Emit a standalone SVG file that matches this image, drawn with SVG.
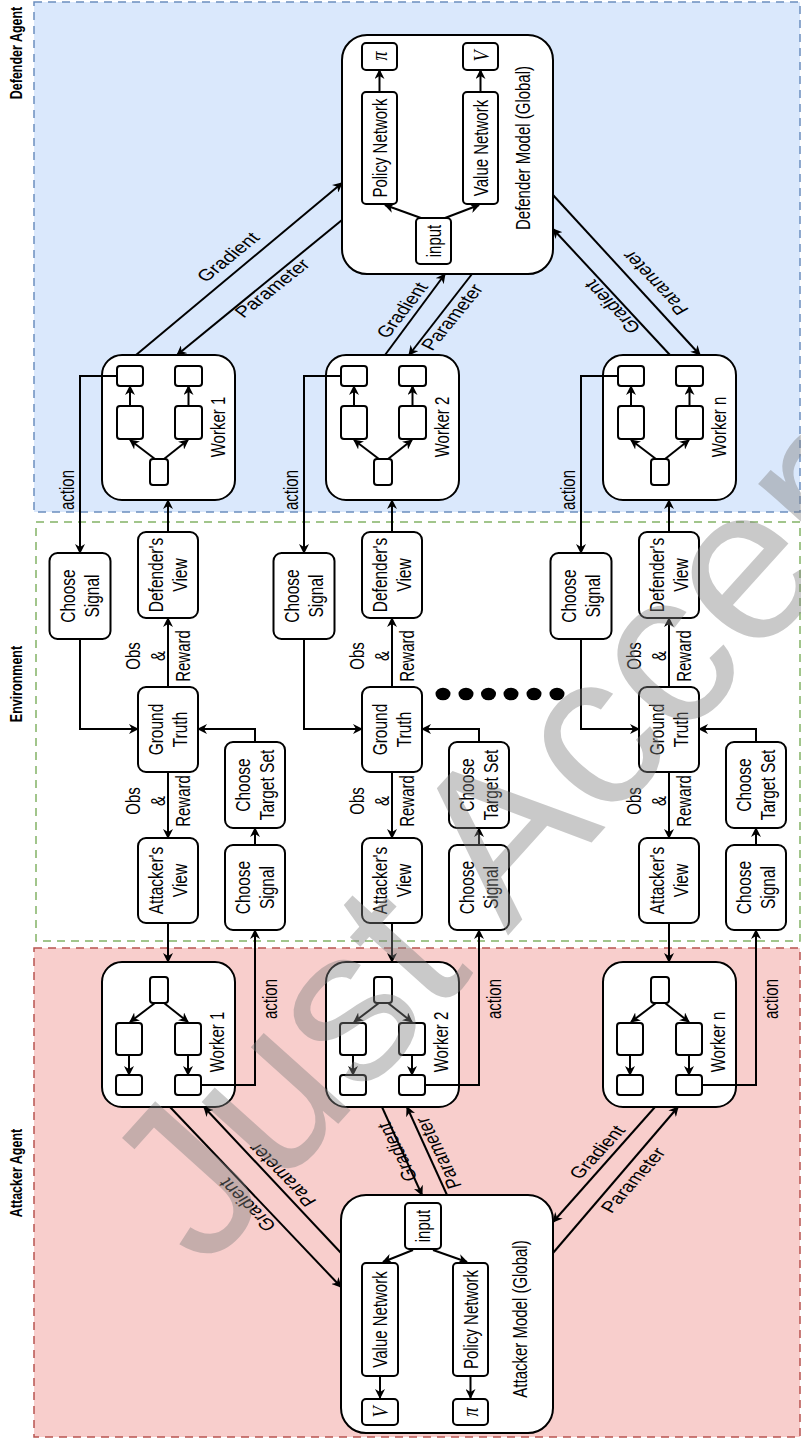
<svg xmlns="http://www.w3.org/2000/svg" width="801" height="1439" viewBox="0 0 801 1439">
<style>
.b{fill:#fff;stroke:#000;stroke-width:2}
.e{fill:none;stroke:#000;stroke-width:2}
.ea{marker-end:url(#ah)}
.t{font-family:"Liberation Sans",Arial,sans-serif;font-size:15px;text-anchor:middle;fill:#000}
.bx{font-size:15.5px}
.lb{font-size:16px}
.sec{font-weight:bold;font-size:12.5px}
.m{font-family:"Liberation Serif","Times New Roman",serif;font-style:italic;font-size:18px;text-anchor:middle;fill:#000}
.wm{font-family:"Liberation Sans",Arial,sans-serif;font-size:220px;fill:#808080;opacity:0.42}
</style>
<defs>
<marker id="ah" viewBox="0 0 10 10" refX="9" refY="5" markerWidth="10" markerHeight="10" markerUnits="userSpaceOnUse" orient="auto">
<path d="M0,0 L10,5 L0,10 L3,5 Z" fill="#000"/>
</marker>
</defs>

<g id="panels">
<rect x="34" y="2" width="766" height="510" fill="#dae8fc" stroke="#6c8ebf" stroke-width="1.5" stroke-dasharray="8 6"/>
<rect x="36" y="522" width="764" height="419" fill="#fff" stroke="#82b366" stroke-width="1.5" stroke-dasharray="8 6"/>
<rect x="34" y="948" width="766" height="489" fill="#f8cecc" stroke="#b85450" stroke-width="1.5" stroke-dasharray="8 6"/>
<text class="t sec" transform="translate(16,53) scale(1.35,1) rotate(-90)" dy="0.35em">Defender Agent</text>
<text class="t sec" transform="translate(16,684) scale(1.35,1) rotate(-90)" dy="0.35em">Environment</text>
<text class="t sec" transform="translate(16,1173) scale(1.35,1) rotate(-90)" dy="0.35em">Attacker Agent</text>
</g>

<g id="defender-model">
<rect class="b" x="342" y="35" width="211" height="239" rx="25"/>
<rect class="b" x="362" y="43" width="35" height="27" rx="4"/>
<rect class="b" x="463" y="43" width="35" height="27" rx="4"/>
<rect class="b" x="362" y="92" width="35" height="112" rx="4"/>
<rect class="b" x="463" y="92" width="35" height="112" rx="4"/>
<rect class="b" x="416" y="218" width="35" height="46" rx="4"/>
<path class="e ea" d="M421,218 L385,205"/>
<path class="e ea" d="M445,218 L479,205"/>
<path class="e ea" d="M379.5,92 V70"/>
<path class="e ea" d="M480.5,92 V70"/>
<text class="m" transform="translate(379.5,56) scale(1.3,1) rotate(-90)" dy="0.3em">π</text>
<text class="m" transform="translate(480.5,56) scale(1.3,1) rotate(-90)" dy="0.35em">V</text>
<text class="t" transform="translate(379.5,148) scale(1.35,1) rotate(-90)" dy="0.35em">Policy Network</text>
<text class="t" transform="translate(480.5,148) scale(1.35,1) rotate(-90)" dy="0.35em">Value Network</text>
<text class="t" transform="translate(433.5,241) scale(1.35,1) rotate(-90)" dy="0.35em">input</text>
<text class="t" transform="translate(523,148) scale(1.35,1) rotate(-90)" dy="0.35em">Defender Model (Global)</text>
</g>

<g id="defender-worker-1" transform="translate(102,355)">
<rect class="b" x="0" y="0" width="133" height="145" rx="20"/>
<rect class="b" x="15" y="11" width="26" height="20" rx="3"/>
<rect class="b" x="73" y="11" width="27" height="20" rx="3"/>
<rect class="b" x="15" y="51" width="26" height="33" rx="3"/>
<rect class="b" x="73" y="51" width="27" height="33" rx="3"/>
<rect class="b" x="48" y="104" width="18" height="26" rx="3"/>
<path class="e ea" d="M53,104 L28,85"/>
<path class="e ea" d="M62,104 L86,85"/>
<path class="e ea" d="M28,51 V31"/>
<path class="e ea" d="M86.5,51 V31"/>
<text class="t" transform="translate(116,72) scale(1.35,1) rotate(-90)" dy="0.35em">Worker 1</text>
</g>
<g id="defender-worker-2" transform="translate(326,355)">
<rect class="b" x="0" y="0" width="133" height="145" rx="20"/>
<rect class="b" x="15" y="11" width="26" height="20" rx="3"/>
<rect class="b" x="73" y="11" width="27" height="20" rx="3"/>
<rect class="b" x="15" y="51" width="26" height="33" rx="3"/>
<rect class="b" x="73" y="51" width="27" height="33" rx="3"/>
<rect class="b" x="48" y="104" width="18" height="26" rx="3"/>
<path class="e ea" d="M53,104 L28,85"/>
<path class="e ea" d="M62,104 L86,85"/>
<path class="e ea" d="M28,51 V31"/>
<path class="e ea" d="M86.5,51 V31"/>
<text class="t" transform="translate(116,72) scale(1.35,1) rotate(-90)" dy="0.35em">Worker 2</text>
</g>
<g id="defender-worker-n" transform="translate(603,355)">
<rect class="b" x="0" y="0" width="133" height="145" rx="20"/>
<rect class="b" x="15" y="11" width="26" height="20" rx="3"/>
<rect class="b" x="73" y="11" width="27" height="20" rx="3"/>
<rect class="b" x="15" y="51" width="26" height="33" rx="3"/>
<rect class="b" x="73" y="51" width="27" height="33" rx="3"/>
<rect class="b" x="48" y="104" width="18" height="26" rx="3"/>
<path class="e ea" d="M53,104 L28,85"/>
<path class="e ea" d="M62,104 L86,85"/>
<path class="e ea" d="M28,51 V31"/>
<path class="e ea" d="M86.5,51 V31"/>
<text class="t" transform="translate(116,72) scale(1.35,1) rotate(-90)" dy="0.35em">Worker n</text>
</g>

<g id="env-col-1">
<g id="choose-signal-d1"><rect class="b" x="49.5" y="553" width="61" height="86" rx="8"/>
<text class="t bx" transform="translate(80,596) scale(1.35,1) rotate(-90)"><tspan x="0" dy="-3.6">Choose</tspan><tspan x="0" dy="18">Signal</tspan></text></g>
<g id="defender-view-1"><rect class="b" x="138" y="532" width="60" height="86" rx="8"/>
<text class="t bx" transform="translate(168,575) scale(1.35,1) rotate(-90)"><tspan x="0" dy="-3.6">Defender's</tspan><tspan x="0" dy="18">View</tspan></text></g>
<g id="ground-truth-1"><rect class="b" x="138" y="687" width="60" height="85" rx="8"/>
<text class="t bx" transform="translate(168,729.5) scale(1.35,1) rotate(-90)"><tspan x="0" dy="-3.6">Ground</tspan><tspan x="0" dy="18">Truth</tspan></text></g>
<g id="choose-target-1"><rect class="b" x="225" y="742" width="60" height="86" rx="8"/>
<text class="t bx" transform="translate(255,785) scale(1.35,1) rotate(-90)"><tspan x="0" dy="-3.6">Choose</tspan><tspan x="0" dy="18">Target Set</tspan></text></g>
<g id="attacker-view-1"><rect class="b" x="138" y="838" width="60" height="85" rx="8"/>
<text class="t bx" transform="translate(168,880.5) scale(1.35,1) rotate(-90)"><tspan x="0" dy="-3.6">Attacker's</tspan><tspan x="0" dy="18">View</tspan></text></g>
<g id="choose-signal-a1"><rect class="b" x="225" y="845" width="60" height="85" rx="8"/>
<text class="t bx" transform="translate(255,887.5) scale(1.35,1) rotate(-90)"><tspan x="0" dy="-3.6">Choose</tspan><tspan x="0" dy="18">Signal</tspan></text></g>
</g>

<g id="env-col-2">
<g id="choose-signal-d2"><rect class="b" x="273.5" y="553" width="61" height="86" rx="8"/>
<text class="t bx" transform="translate(304,596) scale(1.35,1) rotate(-90)"><tspan x="0" dy="-3.6">Choose</tspan><tspan x="0" dy="18">Signal</tspan></text></g>
<g id="defender-view-2"><rect class="b" x="362" y="532" width="60" height="86" rx="8"/>
<text class="t bx" transform="translate(392,575) scale(1.35,1) rotate(-90)"><tspan x="0" dy="-3.6">Defender's</tspan><tspan x="0" dy="18">View</tspan></text></g>
<g id="ground-truth-2"><rect class="b" x="362" y="687" width="60" height="85" rx="8"/>
<text class="t bx" transform="translate(392,729.5) scale(1.35,1) rotate(-90)"><tspan x="0" dy="-3.6">Ground</tspan><tspan x="0" dy="18">Truth</tspan></text></g>
<g id="choose-target-2"><rect class="b" x="449" y="742" width="60" height="86" rx="8"/>
<text class="t bx" transform="translate(479,785) scale(1.35,1) rotate(-90)"><tspan x="0" dy="-3.6">Choose</tspan><tspan x="0" dy="18">Target Set</tspan></text></g>
<g id="attacker-view-2"><rect class="b" x="362" y="838" width="60" height="85" rx="8"/>
<text class="t bx" transform="translate(392,880.5) scale(1.35,1) rotate(-90)"><tspan x="0" dy="-3.6">Attacker's</tspan><tspan x="0" dy="18">View</tspan></text></g>
<g id="choose-signal-a2"><rect class="b" x="449" y="845" width="60" height="85" rx="8"/>
<text class="t bx" transform="translate(479,887.5) scale(1.35,1) rotate(-90)"><tspan x="0" dy="-3.6">Choose</tspan><tspan x="0" dy="18">Signal</tspan></text></g>
</g>

<g id="env-col-n">
<g id="choose-signal-dn"><rect class="b" x="550.5" y="553" width="61" height="86" rx="8"/>
<text class="t bx" transform="translate(581,596) scale(1.35,1) rotate(-90)"><tspan x="0" dy="-3.6">Choose</tspan><tspan x="0" dy="18">Signal</tspan></text></g>
<g id="defender-view-n"><rect class="b" x="639" y="532" width="60" height="86" rx="8"/>
<text class="t bx" transform="translate(669,575) scale(1.35,1) rotate(-90)"><tspan x="0" dy="-3.6">Defender's</tspan><tspan x="0" dy="18">View</tspan></text></g>
<g id="ground-truth-n"><rect class="b" x="639" y="687" width="60" height="85" rx="8"/>
<text class="t bx" transform="translate(669,729.5) scale(1.35,1) rotate(-90)"><tspan x="0" dy="-3.6">Ground</tspan><tspan x="0" dy="18">Truth</tspan></text></g>
<g id="choose-target-n"><rect class="b" x="726" y="742" width="60" height="86" rx="8"/>
<text class="t bx" transform="translate(756,785) scale(1.35,1) rotate(-90)"><tspan x="0" dy="-3.6">Choose</tspan><tspan x="0" dy="18">Target Set</tspan></text></g>
<g id="attacker-view-n"><rect class="b" x="639" y="838" width="60" height="85" rx="8"/>
<text class="t bx" transform="translate(669,880.5) scale(1.35,1) rotate(-90)"><tspan x="0" dy="-3.6">Attacker's</tspan><tspan x="0" dy="18">View</tspan></text></g>
<g id="choose-signal-an"><rect class="b" x="726" y="845" width="60" height="85" rx="8"/>
<text class="t bx" transform="translate(756,887.5) scale(1.35,1) rotate(-90)"><tspan x="0" dy="-3.6">Choose</tspan><tspan x="0" dy="18">Signal</tspan></text></g>
</g>

<g id="ellipsis" fill="#000">
<ellipse cx="443" cy="694" rx="7.5" ry="6.3"/>
<ellipse cx="466" cy="694" rx="7.5" ry="6.3"/>
<ellipse cx="488.5" cy="694" rx="7.5" ry="6.3"/>
<ellipse cx="511" cy="694" rx="7.5" ry="6.3"/>
<ellipse cx="534" cy="694" rx="7.5" ry="6.3"/>
<ellipse cx="557" cy="694" rx="7.5" ry="6.3"/>
</g>

<g id="attacker-worker-1" transform="translate(102,962)">
<rect class="b" x="0" y="0" width="133" height="145" rx="20"/>
<rect class="b" x="48" y="15" width="18" height="26" rx="3"/>
<rect class="b" x="14" y="61" width="26" height="32" rx="3"/>
<rect class="b" x="73" y="61" width="26" height="32" rx="3"/>
<rect class="b" x="14" y="113" width="26" height="20" rx="3"/>
<rect class="b" x="73" y="113" width="26" height="20" rx="3"/>
<path class="e ea" d="M53,41 L28,60"/>
<path class="e ea" d="M62,41 L86,60"/>
<path class="e ea" d="M27,93 V113"/>
<path class="e ea" d="M86,93 V113"/>
<text class="t" transform="translate(115,80) scale(1.35,1) rotate(-90)" dy="0.35em">Worker 1</text>
</g>
<g id="attacker-worker-2" transform="translate(326,962)">
<rect class="b" x="0" y="0" width="133" height="145" rx="20"/>
<rect class="b" x="48" y="15" width="18" height="26" rx="3"/>
<rect class="b" x="14" y="61" width="26" height="32" rx="3"/>
<rect class="b" x="73" y="61" width="26" height="32" rx="3"/>
<rect class="b" x="14" y="113" width="26" height="20" rx="3"/>
<rect class="b" x="73" y="113" width="26" height="20" rx="3"/>
<path class="e ea" d="M53,41 L28,60"/>
<path class="e ea" d="M62,41 L86,60"/>
<path class="e ea" d="M27,93 V113"/>
<path class="e ea" d="M86,93 V113"/>
<text class="t" transform="translate(115,80) scale(1.35,1) rotate(-90)" dy="0.35em">Worker 2</text>
</g>
<g id="attacker-worker-n" transform="translate(603,962)">
<rect class="b" x="0" y="0" width="133" height="145" rx="20"/>
<rect class="b" x="48" y="15" width="18" height="26" rx="3"/>
<rect class="b" x="14" y="61" width="26" height="32" rx="3"/>
<rect class="b" x="73" y="61" width="26" height="32" rx="3"/>
<rect class="b" x="14" y="113" width="26" height="20" rx="3"/>
<rect class="b" x="73" y="113" width="26" height="20" rx="3"/>
<path class="e ea" d="M53,41 L28,60"/>
<path class="e ea" d="M62,41 L86,60"/>
<path class="e ea" d="M27,93 V113"/>
<path class="e ea" d="M86,93 V113"/>
<text class="t" transform="translate(115,80) scale(1.35,1) rotate(-90)" dy="0.35em">Worker n</text>
</g>

<g id="attacker-model">
<rect class="b" x="341" y="1195" width="212" height="238" rx="25"/>
<rect class="b" x="405" y="1203" width="36" height="46" rx="4"/>
<rect class="b" x="362" y="1263" width="36" height="113" rx="4"/>
<rect class="b" x="453" y="1263" width="35" height="113" rx="4"/>
<rect class="b" x="362" y="1399" width="36" height="26" rx="4"/>
<rect class="b" x="453" y="1399" width="35" height="26" rx="4"/>
<path class="e ea" d="M413,1250 L383,1262"/>
<path class="e ea" d="M433,1250 L467,1262"/>
<path class="e ea" d="M380,1376 V1398"/>
<path class="e ea" d="M470.5,1376 V1398"/>
<text class="t" transform="translate(423,1226) scale(1.35,1) rotate(-90)" dy="0.35em">input</text>
<text class="t" transform="translate(380,1319.5) scale(1.35,1) rotate(-90)" dy="0.35em">Value Network</text>
<text class="t" transform="translate(470.5,1319.5) scale(1.35,1) rotate(-90)" dy="0.35em">Policy Network</text>
<text class="m" transform="translate(380,1412) scale(1.3,1) rotate(-90)" dy="0.35em">V</text>
<text class="m" transform="translate(470.5,1412) scale(1.3,1) rotate(-90)" dy="0.3em">π</text>
<text class="t" transform="translate(520,1319) scale(1.35,1) rotate(-90)" dy="0.35em">Attacker Model (Global)</text>
</g>

<g id="connectors">
<path class="e ea" d="M117,376 H80 V553"/>
<path class="e ea" d="M341,376 H304 V553"/>
<path class="e ea" d="M618,376 H581 V553"/>
<path class="e ea" d="M201,1085 H255 V930"/>
<path class="e ea" d="M425,1085 H479 V930"/>
<path class="e ea" d="M702,1085 H756 V930"/>

<path class="e ea" d="M80,639 V729 H138"/>
<path class="e ea" d="M255,742 V729 H198"/>
<path class="e ea" d="M168,687 V618"/>
<path class="e ea" d="M168,532 V500"/>
<path class="e ea" d="M168,772 V838"/>
<path class="e ea" d="M168,923 V962"/>
<path class="e ea" d="M255,845 V828"/>

<path class="e ea" d="M304,639 V729 H362"/>
<path class="e ea" d="M479,742 V729 H422"/>
<path class="e ea" d="M392,687 V618"/>
<path class="e ea" d="M392,532 V500"/>
<path class="e ea" d="M392,772 V838"/>
<path class="e ea" d="M392,923 V962"/>
<path class="e ea" d="M479,845 V828"/>

<path class="e ea" d="M581,639 V729 H639"/>
<path class="e ea" d="M756,742 V729 H699"/>
<path class="e ea" d="M669,687 V618"/>
<path class="e ea" d="M669,532 V500"/>
<path class="e ea" d="M669,772 V838"/>
<path class="e ea" d="M669,923 V962"/>
<path class="e ea" d="M756,845 V828"/>

<path class="e ea" d="M136,355 L342,183"/>
<path class="e ea" d="M342,220 L177,355"/>
<path class="e ea" d="M385,355 L445,274"/>
<path class="e ea" d="M472,274 L409,355"/>
<path class="e ea" d="M670,355 L553,229"/>
<path class="e ea" d="M553,195 L700,355"/>

<path class="e ea" d="M170,1107 L341,1287"/>
<path class="e ea" d="M341,1253 L204,1107"/>
<path class="e ea" d="M382,1107 L422,1195"/>
<path class="e ea" d="M447,1195 L407,1107"/>
<path class="e ea" d="M655,1107 L553,1222"/>
<path class="e ea" d="M553,1253 L678,1107"/>

<text class="t" transform="translate(67,490) scale(1.35,1) rotate(-90)" dy="0.35em">action</text>
<text class="t" transform="translate(291,490) scale(1.35,1) rotate(-90)" dy="0.35em">action</text>
<text class="t" transform="translate(568,490) scale(1.35,1) rotate(-90)" dy="0.35em">action</text>
<text class="t" transform="translate(270,999) scale(1.35,1) rotate(-90)" dy="0.35em">action</text>
<text class="t" transform="translate(494,999) scale(1.35,1) rotate(-90)" dy="0.35em">action</text>
<text class="t" transform="translate(771,999) scale(1.35,1) rotate(-90)" dy="0.35em">action</text>

<text class="t" transform="translate(158,656) scale(1.35,1) rotate(-90)"><tspan x="0" dy="-13.2">Obs</tspan><tspan x="0" dy="18.5">&amp;</tspan><tspan x="0" dy="18.5">Reward</tspan></text>
<text class="t" transform="translate(158,801) scale(1.35,1) rotate(-90)"><tspan x="0" dy="-13.2">Obs</tspan><tspan x="0" dy="18.5">&amp;</tspan><tspan x="0" dy="18.5">Reward</tspan></text>
<text class="t" transform="translate(382,656) scale(1.35,1) rotate(-90)"><tspan x="0" dy="-13.2">Obs</tspan><tspan x="0" dy="18.5">&amp;</tspan><tspan x="0" dy="18.5">Reward</tspan></text>
<text class="t" transform="translate(382,801) scale(1.35,1) rotate(-90)"><tspan x="0" dy="-13.2">Obs</tspan><tspan x="0" dy="18.5">&amp;</tspan><tspan x="0" dy="18.5">Reward</tspan></text>
<text class="t" transform="translate(659,656) scale(1.35,1) rotate(-90)"><tspan x="0" dy="-13.2">Obs</tspan><tspan x="0" dy="18.5">&amp;</tspan><tspan x="0" dy="18.5">Reward</tspan></text>
<text class="t" transform="translate(659,801) scale(1.35,1) rotate(-90)"><tspan x="0" dy="-13.2">Obs</tspan><tspan x="0" dy="18.5">&amp;</tspan><tspan x="0" dy="18.5">Reward</tspan></text>

<text class="t lb" transform="translate(228,257) scale(1.3,1) rotate(-46.4)" dy="0.35em">Gradient</text>
<text class="t lb" transform="translate(272,288) scale(1.3,1) rotate(-45.8)" dy="0.35em">Parameter</text>
<text class="t lb" transform="translate(402,310) scale(1.3,1) rotate(-59)" dy="0.35em">Gradient</text>
<text class="t lb" transform="translate(452,317) scale(1.3,1) rotate(-57.8)" dy="0.35em">Parameter</text>
<text class="t lb" transform="translate(612,307) scale(1.3,1) rotate(-126.4)" dy="0.35em">Gradient</text>
<text class="t lb" transform="translate(655,283) scale(1.3,1) rotate(-126.3)" dy="0.35em">Parameter</text>

<text class="t lb" transform="translate(247,1205) scale(1.3,1) rotate(-127.6)" dy="0.35em">Gradient</text>
<text class="t lb" transform="translate(282,1175) scale(1.3,1) rotate(-127.3)" dy="0.35em">Parameter</text>
<text class="t lb" transform="translate(397,1152) scale(1.3,1) rotate(-110.6)" dy="0.35em">Gradient</text>
<text class="t lb" transform="translate(438,1153) scale(1.3,1) rotate(-110.6)" dy="0.35em">Parameter</text>
<text class="t lb" transform="translate(597,1152) scale(1.3,1) rotate(-54.4)" dy="0.35em">Gradient</text>
<text class="t lb" transform="translate(633,1180) scale(1.3,1) rotate(-55.4)" dy="0.35em">Parameter</text>
</g>

<text class="wm" transform="translate(205,1272) rotate(-48)">Just Accepted</text>
</svg>
